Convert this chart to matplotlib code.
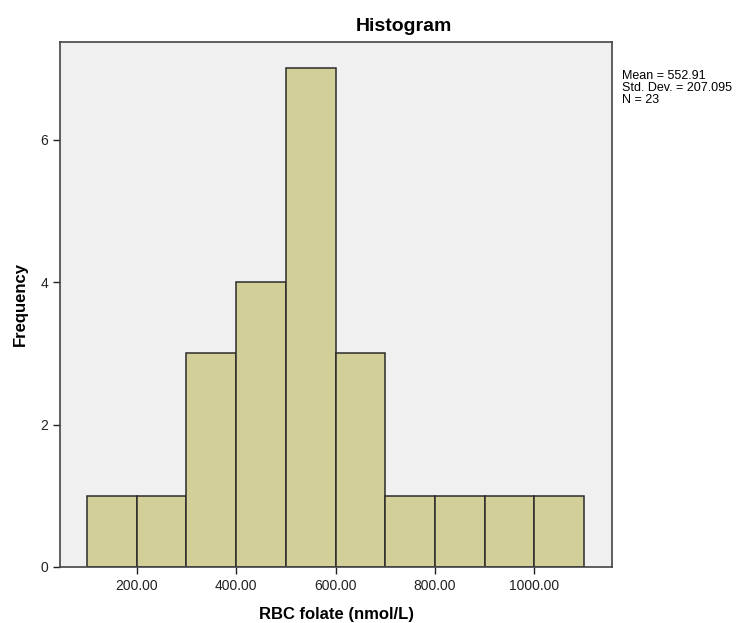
import matplotlib.pyplot as plt

# bin edges and counts
bin_edges = [100, 200, 300, 400, 500, 600, 700, 800, 900, 1000, 1100]
counts = [1, 1, 3, 4, 7, 3, 1, 1, 1, 1]
x_ticks = [200, 400, 600, 800, 1000]
y_ticks = [0, 2, 4, 6]
stats_text = "Mean = 552.91\nStd. Dev. = 207.095\nN = 23"

plt.rcParams['font.family'] = ['Liberation Sans', 'DejaVu Sans']

fig = plt.figure(figsize=(7.48, 6.23), dpi=100)
ax = fig.add_axes([0.0802, 0.0899, 0.7380, 0.8427])
ax.set_facecolor('#f0f0f0')

widths = [bin_edges[i + 1] - bin_edges[i] for i in range(len(counts))]
ax.bar(bin_edges[:-1], counts, width=widths, align='edge',
       color='#d3cf98', edgecolor='#2b2b2b', linewidth=1.1)

ax.set_xlim(46, 1156)
ax.set_ylim(0, 7.37)
ax.set_xticks(x_ticks)
ax.set_xticklabels(['%.2f' % v for v in x_ticks])
ax.set_yticks(y_ticks)
ax.tick_params(direction='out', length=5, width=1, labelsize=10, colors='#222222')
for s in ax.spines.values():
    s.set_color('#444444')
    s.set_linewidth(1.2)

# title sits a bit right of the axes centre, as in SPSS output
fig.text(0.540, 0.957, 'Histogram', fontsize=14, fontweight='bold',
         ha='center', va='center')
ax.set_xlabel('RBC folate (nmol/L)', fontsize=12, fontweight='bold', labelpad=10)
ax.set_ylabel('Frequency', fontsize=12, fontweight='bold', labelpad=9)

fig.text(0.831, 0.887, stats_text, fontsize=9, va='top', ha='left',
         linespacing=0.98)

fig.savefig('out.png', dpi=100)
